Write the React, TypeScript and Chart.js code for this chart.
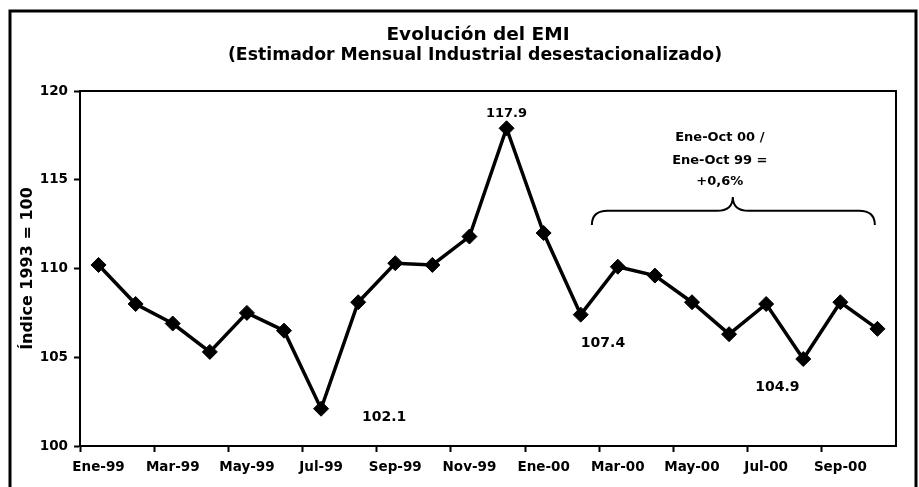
import React, { useEffect, useRef } from 'react';
import { Chart, registerables } from 'chart.js';

Chart.register(...registerables);

// ---- data ----
const months = [
  'Ene-99', 'Feb-99', 'Mar-99', 'Abr-99', 'May-99', 'Jun-99', 'Jul-99', 'Ago-99', 'Sep-99', 'Oct-99', 'Nov-99', 'Dic-99',
  'Ene-00', 'Feb-00', 'Mar-00', 'Abr-00', 'May-00', 'Jun-00', 'Jul-00', 'Ago-00', 'Sep-00', 'Oct-00',
];
const emi = [
  110.2, 108.0, 106.9, 105.3, 107.5, 106.5, 102.1, 108.1, 110.3, 110.2, 111.8, 117.9,
  112.0, 107.4, 110.1, 109.6, 108.1, 106.3, 108.0, 104.9, 108.1, 106.6,
];
const yMin = 100;
const yMax = 120;
const yStep = 5;

const titleText = 'Evolución del EMI';
const subtitleText = '(Estimador Mensual Industrial desestacionalizado)';
const yAxisTitle = 'Índice 1993 = 100';

// labelled points (index into emi) and their label offsets (categories, index units)
const labelIndex = [11, 6, 13, 19];
const labelDx = [0, 1.7, 0.6, -0.7];
const labelDy = [0.85, -0.5, -1.6, -1.6];
const labelSize = [13, 14, 14, 14];

// brace annotation
const braceLines = ['Ene-Oct 00 /', 'Ene-Oct 99 =', '+0,6%'];
const braceTextX = 16.75;
const braceTextY = [117.35, 116.05, 114.9];
const braceX = [13.3, 17.1, 20.93]; // start, tip, end (category index units)
const braceY = [112.45, 113.25, 114.03]; // ends, bar, tip (values)

const FONT = "'DejaVu Sans'";

const decor = {
  id: 'decor',
  beforeDraw(chart: any) {
    const ctx = chart.ctx;
    ctx.save();
    ctx.fillStyle = '#fff';
    ctx.fillRect(0, 0, chart.width, chart.height);
    ctx.restore();
  },
  afterDraw(chart: any) {
    const ctx = chart.ctx;
    const a = chart.chartArea;
    const x = chart.scales.x;
    const y = chart.scales.y;
    ctx.save();
    // outer frame
    ctx.strokeStyle = '#000';
    ctx.lineWidth = 3;
    ctx.beginPath();
    ctx.moveTo(10, chart.height);
    ctx.lineTo(10, 11);
    ctx.lineTo(916, 11);
    ctx.lineTo(916, chart.height);
    ctx.stroke();
    // plot box
    ctx.lineWidth = 2;
    ctx.strokeRect(a.left, a.top, a.right - a.left, a.bottom - a.top);

    // titles
    ctx.fillStyle = '#000';
    ctx.textAlign = 'center';
    ctx.textBaseline = 'middle';
    ctx.font = `bold 18.5px ${FONT}`;
    ctx.fillText(titleText, 478, 35);
    ctx.font = `bold 17.3px ${FONT}`;
    ctx.fillText(subtitleText, 475, 56);

    // point labels
    labelIndex.forEach((idx, k) => {
      ctx.font = `bold ${labelSize[k]}px ${FONT}`;
      const px = x.getPixelForValue(idx + labelDx[k]);
      const py = y.getPixelForValue(emi[idx] + labelDy[k]);
      ctx.fillText(emi[idx].toFixed(1), px, py);
    });

    // brace text
    ctx.font = `bold 13px ${FONT}`;
    braceLines.forEach((t, k) => {
      ctx.fillText(t, x.getPixelForValue(braceTextX), y.getPixelForValue(braceTextY[k]));
    });

    // brace
    const xl = x.getPixelForValue(braceX[0]);
    const xm = x.getPixelForValue(braceX[1]);
    const xr = x.getPixelForValue(braceX[2]);
    const yEnd = y.getPixelForValue(braceY[0]);
    const yBar = y.getPixelForValue(braceY[1]);
    const yTip = y.getPixelForValue(braceY[2]);
    const r = 16;
    ctx.lineWidth = 2;
    ctx.beginPath();
    ctx.moveTo(xl, yEnd);
    ctx.quadraticCurveTo(xl, yBar, xl + r, yBar);
    ctx.lineTo(xm - r, yBar);
    ctx.quadraticCurveTo(xm, yBar, xm, yTip);
    ctx.quadraticCurveTo(xm, yBar, xm + r, yBar);
    ctx.lineTo(xr - r, yBar);
    ctx.quadraticCurveTo(xr, yBar, xr, yEnd);
    ctx.stroke();
    ctx.restore();
  },
};

export default function App() {
  const ref = useRef<HTMLCanvasElement | null>(null);

  useEffect(() => {
    document.body.style.margin = '0';
    if (!ref.current) return;
    const chart = new Chart(ref.current, {
      type: 'line',
      data: {
        labels: months,
        datasets: [
          {
            data: emi,
            borderColor: '#000',
            borderWidth: 3.5,
            pointStyle: 'rectRot',
            pointRadius: 7.5,
            pointBackgroundColor: '#000',
            pointBorderColor: '#000',
            pointBorderWidth: 1,
            tension: 0,
          },
        ],
      },
      options: {
        responsive: false,
        animation: false,
        layout: { padding: { left: 10, right: 23, top: 91, bottom: 0 } },
        plugins: {
          legend: { display: false },
          title: { display: false },
          tooltip: { enabled: false },
        },
        scales: {
          x: {
            type: 'category',
            offset: true,
            grid: {
              offset: true,
              drawOnChartArea: false,
              drawTicks: true,
              tickLength: 6,
              tickWidth: 2,
              tickColor: (c: any) => (c.index % 2 === 0 ? '#000' : 'rgba(0,0,0,0)'),
            },
            border: { display: true, color: '#000', width: 2 },
            ticks: {
              autoSkip: false,
              maxRotation: 0,
              minRotation: 0,
              padding: 7,
              color: '#000',
              font: { family: FONT, weight: 'bold', size: 13.5 },
              callback: (_v: any, i: number) => (i % 2 === 0 ? months[i] : ''),
            },
            afterFit: (s: any) => {
              s.height = 41;
            },
          },
          y: {
            min: yMin,
            max: yMax,
            grid: {
              drawOnChartArea: false,
              drawTicks: true,
              tickLength: 6,
              tickWidth: 2,
              tickColor: '#000',
            },
            border: { display: true, color: '#000', width: 2 },
            ticks: {
              stepSize: yStep,
              padding: 6,
              color: '#000',
              font: { family: FONT, weight: 'bold', size: 13.5 },
            },
            title: {
              display: true,
              text: yAxisTitle,
              color: '#000',
              font: { family: FONT, weight: 'bold', size: 16 },
              padding: { top: 8, bottom: 0 },
            },
            afterFit: (s: any) => {
              s.width = 70;
            },
          },
        },
      },
      plugins: [decor],
    });
    return () => chart.destroy();
  }, []);

  return (
    <div style={{ position: 'absolute', left: 0, top: 0, width: 919, height: 487 }}>
      <canvas ref={ref} width={919} height={487} style={{ display: 'block' }} />
    </div>
  );
}
